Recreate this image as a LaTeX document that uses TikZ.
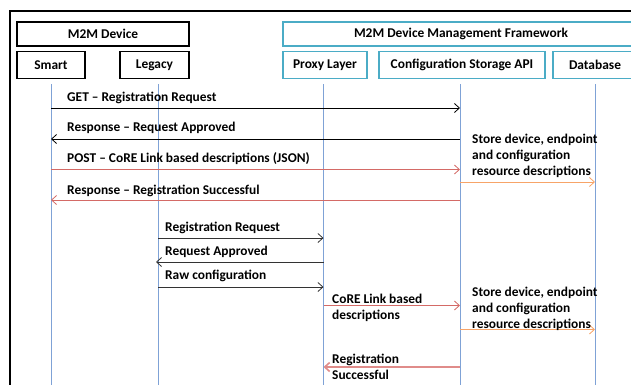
\documentclass[tikz,border=0pt]{standalone}
\usepackage{fontspec}
\setmainfont{Carlito}
\usetikzlibrary{arrows.meta}

\definecolor{lifeblue}{HTML}{7FA2D6}
\definecolor{fwteal}{HTML}{4BACC6}
\definecolor{msgred}{HTML}{D46A66}
\definecolor{msgpink}{HTML}{E08C8A}
\definecolor{msgorange}{HTML}{F7A468}

\tikzset{
  devbox/.style={draw, line width=1.4pt, inner sep=0pt},
  fwbox/.style={draw=fwteal, line width=1.4pt, inner sep=0pt},
  life/.style={draw=lifeblue, line width=0.9pt},
  msg/.style={-{Straight Barb[length=5pt, width=9pt]}, line width=0.8pt},
  lbl/.style={anchor=west, inner sep=0pt, align=left, yshift=-1.5pt}
}

\begin{document}
\begin{tikzpicture}[x=1pt, y=1pt, font=\fontsize{13.4}{16}\selectfont\bfseries]
\useasboundingbox (0,0) rectangle (631,-384);
\draw[line width=2pt] (10,-11) rectangle (660,-420);

% header boxes
\node[devbox, minimum width=172, minimum height=24] at (103,-34) (dev) {M2M Device};
\node[devbox, minimum width=68, minimum height=27] at (51,-65) (smart) {Smart};
\node[devbox, minimum width=69, minimum height=27] at (154.5,-65) (legacy) {Legacy};
\node[fwbox, minimum width=356, minimum height=24] at (461,-34) (fw) {M2M Device Management Framework};
\node[fwbox, minimum width=84, minimum height=27] at (325,-65) (proxy) {Proxy Layer};
\node[fwbox, minimum width=166, minimum height=27] at (462,-65) (config) {Configuration Storage API};
\node[fwbox, minimum width=84, minimum height=27] at (595,-65) (db) {Database};

% lifelines
\coordinate (smartL) at (51,-84);
\coordinate (legacyL) at (158,-84);
\coordinate (proxyL) at (323.5,-84);
\coordinate (configL) at (460,-84);
\coordinate (dbL) at (595,-84);
\coordinate (bottom) at (0,-400);
\foreach \l in {smartL,legacyL,proxyL,configL,dbL}
  \draw[life] (\l) -- (\l |- bottom);

% smart device registration
\coordinate (r1) at (0,-108);
\coordinate (r2) at (0,-139);
\coordinate (r3) at (0,-169.5);
\coordinate (r4) at (0,-200);
\coordinate (r5) at (0,-182);
\draw[msg] (smartL |- r1) -- (configL |- r1);
\draw[msg] (configL |- r2) -- (smartL |- r2);
\draw[msg, msgred] (smartL |- r3) -- (configL |- r3);
\draw[msg, msgred] (configL |- r4) -- (smartL |- r4);
\draw[msg, msgorange] (configL |- r5) -- (dbL |- r5);
\node[lbl] at (67,-96) (m1) {GET -- Registration Request};
\node[lbl] at (67,-126) (m2) {Response -- Request Approved};
\node[lbl] at (67,-157) (m3) {POST -- CoRE Link based descriptions (JSON)};
\node[lbl] at (67,-189) (m4) {Response -- Registration Successful};
\node[lbl] at (472,-154.5) (s1) {Store device, endpoint\\and configuration\\resource descriptions};

% legacy device registration
\coordinate (r6) at (0,-238);
\coordinate (r7) at (0,-262);
\coordinate (r8) at (0,-287);
\coordinate (r9) at (0,-305.5);
\coordinate (r10) at (0,-329.5);
\coordinate (r11) at (0,-367);
\draw[msg, black!80] (legacyL |- r6) -- (proxyL |- r6);
\draw[msg, black!80] (proxyL |- r7) -- ([xshift=-2]legacyL |- r7);
\draw[msg, black!80] (legacyL |- r8) -- (proxyL |- r8);
\draw[msg, msgred] (proxyL |- r9) -- (configL |- r9);
\draw[msg, msgorange] (configL |- r10) -- (dbL |- r10);
\draw[msg, msgpink, line width=1.6pt] (configL |- r11) -- (proxyL |- r11);
\node[lbl] at (165,-226) (m6) {Registration Request};
\node[lbl] at (165,-250) (m7) {Request Approved};
\node[lbl] at (165,-274) (m8) {Raw configuration};
\node[lbl] at (332,-306) (m9) {CoRE Link based\\descriptions};
\node[lbl] at (472,-307.5) (s2) {Store device, endpoint\\and configuration\\resource descriptions};
\node[lbl] at (332,-365) (m11) {Registration\\Successful};

\end{tikzpicture}
\end{document}
